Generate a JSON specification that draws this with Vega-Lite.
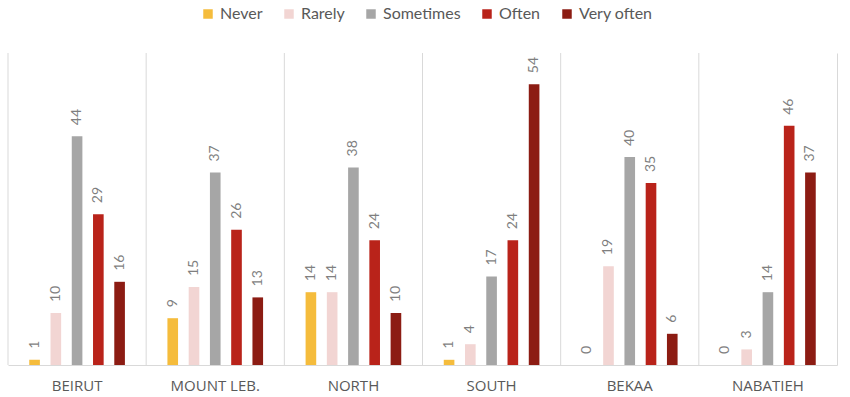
{
  "$schema": "https://vega.github.io/schema/vega-lite/v6.json",
  "width": 829,
  "height": 312,
  "autosize": "none",
  "padding": {"left": 8, "top": 53, "right": 13, "bottom": 32},
  "background": "white",
  "config": {
    "font": "Lato",
    "view": {"stroke": null}
  },
  "datasets": {
    "survey": [
      {"region": "BEIRUT", "freq": "Never", "value": 1},
      {"region": "BEIRUT", "freq": "Rarely", "value": 10},
      {"region": "BEIRUT", "freq": "Sometimes", "value": 44},
      {"region": "BEIRUT", "freq": "Often", "value": 29},
      {"region": "BEIRUT", "freq": "Very often", "value": 16},
      {"region": "MOUNT LEB.", "freq": "Never", "value": 9},
      {"region": "MOUNT LEB.", "freq": "Rarely", "value": 15},
      {"region": "MOUNT LEB.", "freq": "Sometimes", "value": 37},
      {"region": "MOUNT LEB.", "freq": "Often", "value": 26},
      {"region": "MOUNT LEB.", "freq": "Very often", "value": 13},
      {"region": "NORTH", "freq": "Never", "value": 14},
      {"region": "NORTH", "freq": "Rarely", "value": 14},
      {"region": "NORTH", "freq": "Sometimes", "value": 38},
      {"region": "NORTH", "freq": "Often", "value": 24},
      {"region": "NORTH", "freq": "Very often", "value": 10},
      {"region": "SOUTH", "freq": "Never", "value": 1},
      {"region": "SOUTH", "freq": "Rarely", "value": 4},
      {"region": "SOUTH", "freq": "Sometimes", "value": 17},
      {"region": "SOUTH", "freq": "Often", "value": 24},
      {"region": "SOUTH", "freq": "Very often", "value": 54},
      {"region": "BEKAA", "freq": "Never", "value": 0},
      {"region": "BEKAA", "freq": "Rarely", "value": 19},
      {"region": "BEKAA", "freq": "Sometimes", "value": 40},
      {"region": "BEKAA", "freq": "Often", "value": 35},
      {"region": "BEKAA", "freq": "Very often", "value": 6},
      {"region": "NABATIEH", "freq": "Never", "value": 0},
      {"region": "NABATIEH", "freq": "Rarely", "value": 3},
      {"region": "NABATIEH", "freq": "Sometimes", "value": 14},
      {"region": "NABATIEH", "freq": "Often", "value": 46},
      {"region": "NABATIEH", "freq": "Very often", "value": 37}
    ],
    "regions": [
      {"region": "BEIRUT"},
      {"region": "MOUNT LEB."},
      {"region": "NORTH"},
      {"region": "SOUTH"},
      {"region": "BEKAA"},
      {"region": "NABATIEH"}
    ]
  },
  "layer": [
    {
      "data": {"name": "survey"},
      "mark": {"type": "bar"},
      "encoding": {
        "x": {
          "field": "region", "type": "nominal",
          "sort": ["BEIRUT", "MOUNT LEB.", "NORTH", "SOUTH", "BEKAA", "NABATIEH"],
          "scale": {"paddingInner": 0, "paddingOuter": 0},
          "axis": {
            "title": null, "labelAngle": 0, "ticks": false, "grid": false,
            "bandPosition": 0.5, "labelAlign": "center",
            "domainColor": "#d9d9d9", "labelFontSize": 15, "labelColor": "#595959",
            "labelPadding": 13, "labelFont": "Open Sans"
          }
        },
        "xOffset": {
          "field": "freq", "type": "nominal",
          "sort": ["Never", "Rarely", "Sometimes", "Often", "Very often"],
          "scale": {"paddingInner": 0.5, "paddingOuter": 1.2}
        },
        "y": {
          "field": "value", "type": "quantitative",
          "scale": {"domain": [0, 60], "nice": false},
          "axis": {
            "orient": "right", "title": null, "labels": false, "ticks": false,
            "grid": false, "domain": true, "domainColor": "#d9d9d9"
          }
        },
        "color": {
          "field": "freq", "type": "nominal",
          "sort": ["Never", "Rarely", "Sometimes", "Often", "Very often"],
          "scale": {
            "domain": ["Never", "Rarely", "Sometimes", "Often", "Very often"],
            "range": ["#F5BC3C", "#F2D5D3", "#A6A6A6", "#B9231A", "#8C1C13"]
          },
          "legend": {
            "title": null, "orient": "none", "direction": "horizontal",
            "legendX": 192, "legendY": -47, "symbolType": "square",
            "symbolSize": 90, "symbolStrokeWidth": 0, "labelFontSize": 16,
            "labelColor": "#595959", "columnPadding": 18, "labelOffset": 4
          }
        }
      }
    },
    {
      "data": {"name": "regions"},
      "mark": {"type": "rule", "color": "#d9d9d9", "strokeWidth": 1},
      "encoding": {
        "x": {"field": "region", "type": "nominal", "bandPosition": 0,
              "sort": ["BEIRUT", "MOUNT LEB.", "NORTH", "SOUTH", "BEKAA", "NABATIEH"]}
      }
    },
    {
      "data": {"name": "survey"},
      "mark": {"type": "text", "angle": 270, "align": "left", "baseline": "middle",
               "dx": 11, "fontSize": 14, "color": "#7f7f7f"},
      "encoding": {
        "x": {"field": "region", "type": "nominal",
              "sort": ["BEIRUT", "MOUNT LEB.", "NORTH", "SOUTH", "BEKAA", "NABATIEH"]},
        "xOffset": {"field": "freq", "type": "nominal",
                    "sort": ["Never", "Rarely", "Sometimes", "Often", "Very often"]},
        "y": {"field": "value", "type": "quantitative"},
        "text": {"field": "value", "type": "quantitative"}
      }
    }
  ]
}
